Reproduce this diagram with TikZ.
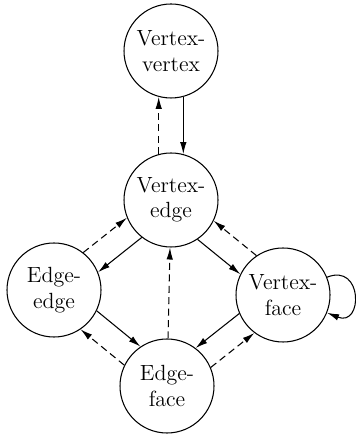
\documentclass[tikz,border=0pt]{standalone}
\usepackage{tikz}
\usetikzlibrary{arrows.meta, positioning, calc}

\begin{document}
\begin{tikzpicture}[>={Latex[length=2.4mm,width=1.3mm]}, semithick,
    contact/.style={draw, circle, minimum size=1.88cm, inner sep=0pt, align=center,
        font=\fontsize{12.5}{14.5}\selectfont},
    back/.style={->, dash pattern=on 4pt off 2.5pt}]
    \useasboundingbox (0,0) rectangle (7.1,8.7);
    \node[contact] (vv) at (3.42,7.68) {Vertex-\\vertex};
    \node[contact] (ve) at (3.42,4.70) {Vertex-\\edge};
    \node[contact] (ee) at (1.08,2.90) {Edge-\\edge};
    \node[contact] (vf) at (5.66,2.80) {Vertex-\\face};
    \node[contact] (ef) at (3.34,0.98) {Edge-\\face};
    \draw[->] (vv.-75) -- (ve.75);
    \draw[back] (ve.105) -- (vv.-105);
    \draw[->] (ve.232.6) -- (ee.22.6);
    \draw[back] (ee.52.6) -- (ve.202.6);
    \draw[->] (ve.304.7) -- (vf.154.7);
    \draw[back] (vf.124.7) -- (ve.334.7);
    \draw[->] (ee.334.6) -- (ef.124.6);
    \draw[back] (ef.154.6) -- (ee.304.6);
    \draw[->] (vf.203.1) -- (ef.53.1);
    \draw[back] (ef.23.1) -- (vf.233.1);
    \draw[back] (ef) -- (ve);
    \draw[->] (vf.22) to[out=22, in=-22, looseness=2.8] (vf.-22);
\end{tikzpicture}
\end{document}
